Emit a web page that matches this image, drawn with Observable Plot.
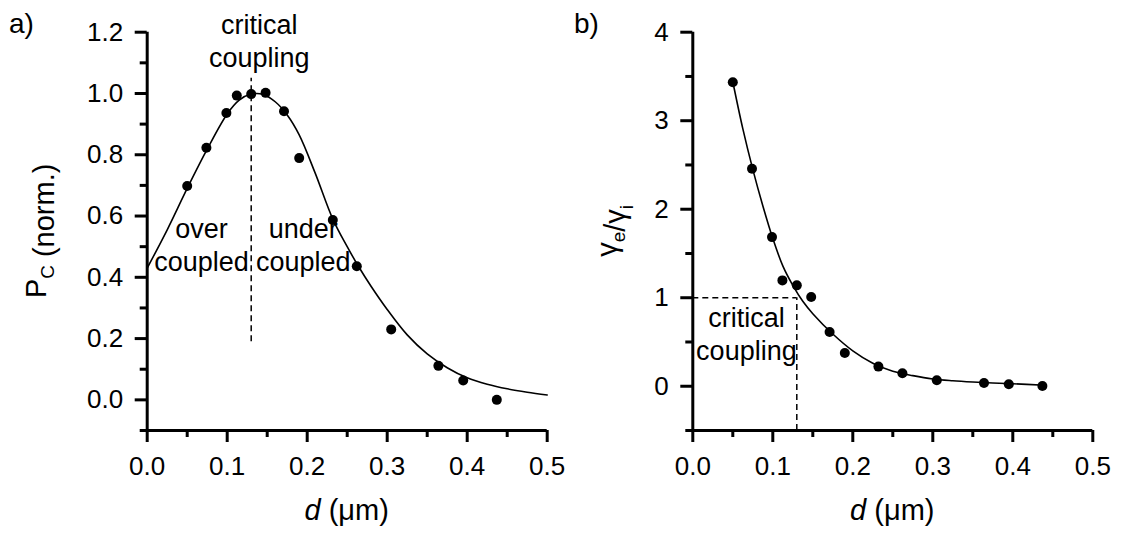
<!DOCTYPE html>
<html>
<head>
<meta charset="utf-8">
<script src="https://cdn.jsdelivr.net/npm/d3@7"></script>
<script src="https://cdn.jsdelivr.net/npm/@observablehq/plot@0.6"></script>
<style>
  body { margin: 0; background: #fff; }
  #figure { display: flex; width: 1124px; height: 533px; background: #fff; }
</style>
</head>
<body>
<div id="figure"></div>
<script>
// Gap distance d (µm) of each measured device
const gap = [0.05, 0.074, 0.099, 0.112, 0.13, 0.148, 0.171, 0.19, 0.232, 0.262, 0.305, 0.364, 0.395, 0.437];
// a) normalised coupled power P_C
const couplingPower = [0.698, 0.823, 0.936, 0.993, 0.998, 1.002, 0.942, 0.789, 0.587, 0.436, 0.23, 0.111, 0.063, 0.0];
// b) ratio of external to intrinsic loss rate
const gammaRatio = [3.435, 2.457, 1.685, 1.196, 1.14, 1.008, 0.613, 0.376, 0.222, 0.147, 0.068, 0.037, 0.023, 0.003];

// fitted curve of P_C
const fitPowerGap = [0, 0.025, 0.05, 0.075, 0.1, 0.115, 0.13, 0.145, 0.16, 0.175, 0.19, 0.21, 0.232, 0.25, 0.264, 0.28, 0.3, 0.325, 0.35, 0.375, 0.4, 0.425, 0.45, 0.475, 0.5];
const fitPower = [0.43, 0.555, 0.69, 0.818, 0.933, 0.978, 0.998, 0.997, 0.973, 0.93, 0.865, 0.74, 0.59, 0.5, 0.436, 0.37, 0.295, 0.212, 0.15, 0.105, 0.072, 0.051, 0.036, 0.025, 0.016];

// fitted curve of gamma_e / gamma_i
const fitRatioGap = [0.05, 0.0625, 0.075, 0.0875, 0.1, 0.1125, 0.125, 0.1375, 0.15, 0.175, 0.2, 0.225, 0.25, 0.275, 0.3, 0.325, 0.35, 0.375, 0.4, 0.44];
const fitRatio = [3.44, 2.91, 2.45, 2.04, 1.67, 1.36, 1.14, 0.96, 0.82, 0.59, 0.40, 0.26, 0.17, 0.12, 0.082, 0.062, 0.048, 0.037, 0.028, 0.012];

// gap at critical coupling (gamma_e = gamma_i)
const criticalGap = 0.13;

// axis ticks
const gapTicks = [0, 0.1, 0.2, 0.3, 0.4, 0.5];
const gapMinorTicks = [0.05, 0.15, 0.25, 0.35, 0.45];
const powerTicks = [0, 0.2, 0.4, 0.6, 0.8, 1.0, 1.2];
const powerMinorTicks = [-0.1, 0.1, 0.3, 0.5, 0.7, 0.9, 1.1];
const ratioTicks = [0, 1, 2, 3, 4];
const ratioMinorTicks = [-0.5, 0.5, 1.5, 2.5, 3.5];

const measured = gap.map((d, i) => ({d, p: couplingPower[i], r: gammaRatio[i]}));
const powerFit = fitPowerGap.map((d, i) => ({d, p: fitPower[i]}));
const ratioFit = fitRatioGap.map((d, i) => ({d, r: fitRatio[i]}));

const FONT = '"Liberation Sans", Arial, sans-serif';
const W = 562, H = 533, TOP = 31.7, BOTTOM = 103;
const AXIS_W = 3, MAJOR = 12, MINOR = 7;
const TICK_FONT = 26, TITLE_FONT = 29, NOTE_FONT = 27;

function axes(xFormat, yTicks, yMinor, yFormat, yMin) {
  return [
    Plot.ruleX([0], {strokeWidth: AXIS_W}),
    Plot.ruleY([yMin], {strokeWidth: AXIS_W}),
    Plot.axisX(gapTicks, {tickSize: MAJOR, tickPadding: 14, strokeWidth: AXIS_W, fontSize: TICK_FONT, tickFormat: xFormat, label: null}),
    Plot.axisX(gapMinorTicks, {tickSize: MINOR, strokeWidth: AXIS_W, fill: "none", label: null}),
    Plot.axisY(yTicks, {tickSize: MAJOR, tickPadding: 12, strokeWidth: AXIS_W, fontSize: TICK_FONT, tickFormat: yFormat, label: null}),
    Plot.axisY(yMinor, {tickSize: MINOR, strokeWidth: AXIS_W, fill: "none", label: null})
  ];
}

const chartStyle = {fontFamily: FONT, fontSize: TICK_FONT + "px", color: "black", background: "transparent", overflow: "visible"};

// a) coupled power versus gap
const mL_a = 146.7, mR_a = 15.3;
const chartA = Plot.plot({
  width: W, height: H,
  marginLeft: mL_a, marginRight: mR_a, marginTop: TOP, marginBottom: BOTTOM,
  style: chartStyle,
  x: {domain: [0, 0.5]},
  y: {domain: [-0.1, 1.2]},
  marks: [
    ...axes(d3.format(".1f"), powerTicks, powerMinorTicks, d3.format(".1f"), -0.1),
    Plot.ruleX([criticalGap], {y1: 0.19, y2: 1.05, strokeWidth: 1.5, strokeDasharray: "6,4"}),
    Plot.line(powerFit, {x: "d", y: "p", curve: "catmull-rom", strokeWidth: 1.6}),
    Plot.dot(measured, {x: "d", y: "p", r: 5, fill: "black", stroke: "none"}),
    Plot.text(["critical\ncoupling"], {x: 0.14, y: 1.088, lineAnchor: "bottom", lineHeight: 1.2, fontSize: NOTE_FONT}),
    Plot.text(["over\ncoupled"], {x: 0.068, y: 0.422, lineAnchor: "bottom", lineHeight: 1.2, fontSize: NOTE_FONT}),
    Plot.text(["under\ncoupled"], {x: 0.195, y: 0.422, lineAnchor: "bottom", lineHeight: 1.2, fontSize: NOTE_FONT})
  ]
});

// b) loss-rate ratio versus gap
const mL_b = 130.3, mR_b = 31.7;
const chartB = Plot.plot({
  width: W, height: H,
  marginLeft: mL_b, marginRight: mR_b, marginTop: TOP, marginBottom: BOTTOM,
  style: chartStyle,
  x: {domain: [0, 0.5]},
  y: {domain: [-0.5, 4]},
  marks: [
    ...axes(d3.format(".1f"), ratioTicks, ratioMinorTicks, d3.format("d"), -0.5),
    Plot.ruleY([1], {x1: 0, x2: criticalGap, strokeWidth: 1.5, strokeDasharray: "6,4"}),
    Plot.ruleX([criticalGap], {y1: -0.5, y2: 1, strokeWidth: 1.5, strokeDasharray: "6,4"}),
    Plot.line(ratioFit, {x: "d", y: "r", curve: "catmull-rom", strokeWidth: 1.6}),
    Plot.dot(measured, {x: "d", y: "r", r: 5, fill: "black", stroke: "none"}),
    Plot.text(["critical\ncoupling"], {x: 0.067, y: 0.30, lineAnchor: "bottom", lineHeight: 1.22, fontSize: NOTE_FONT})
  ]
});

const fig = document.getElementById("figure");
fig.append(chartA, chartB);

// panel letters and axis titles
function titles(svgNode, letter, letterX, mL, mR, yTitleX, yParts) {
  const svg = d3.select(svgNode);
  const g = svg.append("g").attr("font-family", FONT).attr("fill", "black");
  g.append("text").attr("x", letterX).attr("y", 33).attr("text-anchor", "start").attr("font-size", 28).text(letter);
  const xt = g.append("text")
    .attr("x", mL + (W - mL - mR) / 2).attr("y", 520)
    .attr("text-anchor", "middle").attr("font-size", TITLE_FONT);
  xt.append("tspan").attr("font-style", "italic").text("d");
  xt.append("tspan").text(" (\u03bcm)");
  const yc = TOP + (H - TOP - BOTTOM) / 2;
  const yt = g.append("text")
    .attr("transform", `translate(${yTitleX},${yc}) rotate(-90)`)
    .attr("text-anchor", "middle").attr("font-size", TITLE_FONT);
  for (const [txt, sub] of yParts) {
    yt.append("tspan").text(txt);
    if (sub) {
      yt.append("tspan").attr("font-size", "0.65em").attr("dy", 8).text(sub);
      yt.append("tspan").attr("dy", -8).text("");
    }
  }
}
titles(chartA, "a)", 9, mL_a, mR_a, 46, [["P", "C"], [" (norm.)", null]]);
titles(chartB, "b)", 12, mL_b, mR_b, 617 - 562, [["\u03b3", "e"], ["/\u03b3", "i"]]);
</script>
</body>
</html>
